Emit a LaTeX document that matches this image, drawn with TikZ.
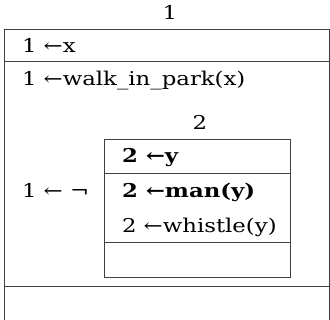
\documentclass[tikz,border=0pt]{standalone}
\usepackage{fontspec}
\setmainfont[FakeStretch=1.2]{DejaVu Serif}
\begin{document}
\begin{tikzpicture}[x=1pt, y=-1pt, font=\fontsize{19}{23}\selectfont, every node/.style={inner sep=0pt, outer sep=0pt, anchor=base west}, box/.style={draw=black!75, line width=1pt}]
	\useasboundingbox (0, 0) rectangle (330, 320);
	% Hộp ngoài
	\draw[box] (4, 29.5) rectangle (329, 330);
	\draw[box] (4, 62) -- (329, 62);
	\draw[box] (4, 287) -- (329, 287);
	\node[anchor=base] (top) at (170, 20) {1};
	\node (x) at (22, 53) {1 ←x};
	\node (walk) at (22, 86) {1 ←walk\_in\_park(x)};
	\node (neg) at (22, 198) {1 ← ¬};
	
	% Hộp trong
	\draw[box] (104, 140) rectangle (290, 278);
	\draw[box] (104, 174) -- (290, 174);
	\draw[box] (104, 243) -- (290, 243);
	\node[anchor=base] (sub) at (200, 130) {2};
	\node (y) at (122, 163) {\bfseries 2 ←y};
	\node (man) at (122, 198) {\bfseries 2 ←man(y)};
	\node (whistle) at (122, 233) {2 ←whistle(y)};
	
\end{tikzpicture}
\end{document}
